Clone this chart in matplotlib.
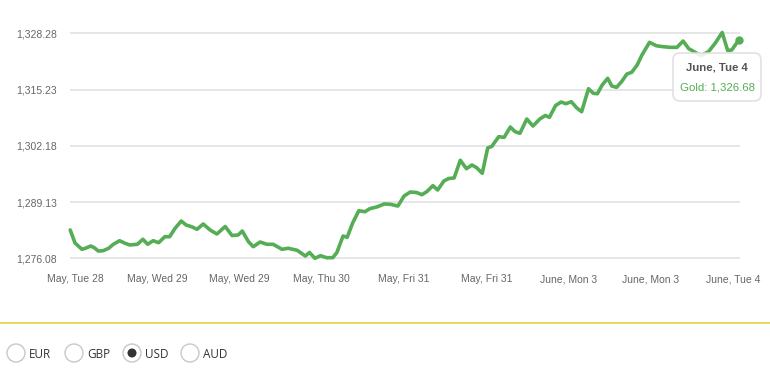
import matplotlib.pyplot as plt
from matplotlib.patches import Circle, FancyBboxPatch

# gold price, hours since first tick (12 h per tick)
hours = [-0.7, 0.0, 1.0, 1.5, 2.3, 2.8, 3.4, 4.1, 4.9, 5.6, 6.5, 7.3, 8.0, 9.1, 9.9,
         10.6, 11.4, 12.2, 13.1, 13.8, 14.6, 15.5, 16.2, 17.0, 17.8, 18.7, 19.7,
         20.7, 21.9, 22.9, 23.8, 24.4, 25.3, 26.0, 27.0, 28.0, 28.9, 30.2, 31.1,
         32.4, 33.6, 34.2, 35.0, 35.8, 36.7, 37.6, 38.2, 39.1, 39.7, 40.5, 41.4,
         42.3, 43.0, 44.0, 45.1, 46.0, 47.1, 48.0, 48.9, 49.8, 50.6, 51.3, 52.2,
         52.9, 53.8, 54.5, 55.3, 56.2, 57.1, 57.9, 58.6, 59.4, 60.2, 60.8, 61.8,
         62.6, 63.5, 64.2, 64.9, 65.9, 66.8, 67.8, 68.6, 69.2, 70.1, 70.9, 71.6,
         72.4, 73.2, 73.9, 74.9, 75.6, 76.2, 76.9, 77.7, 78.3, 79.0, 79.8, 80.5,
         81.2, 82.0, 82.7, 83.8, 84.8, 85.8, 86.8, 87.8, 88.7, 89.5, 90.5, 91.3,
         92.4, 93.4, 94.4, 95.2, 95.8, 96.8]
gold = [1282.65, 1279.63, 1278.17, 1278.40, 1278.93, 1278.54, 1277.77, 1277.84,
        1278.40, 1279.33, 1280.16, 1279.56, 1279.17, 1279.33, 1280.49, 1279.33,
        1280.16, 1279.70, 1281.09, 1281.09, 1283.04, 1284.73, 1283.81, 1283.41,
        1282.81, 1284.04, 1282.65, 1281.72, 1283.46, 1281.37, 1281.49, 1282.41,
        1279.93, 1278.77, 1279.86, 1279.33, 1279.33, 1278.17, 1278.40, 1277.94,
        1276.61, 1277.43, 1276.08, 1276.68, 1276.22, 1276.22, 1277.43, 1281.25,
        1280.95, 1284.27, 1287.12, 1286.89, 1287.59, 1287.98, 1288.68, 1288.61,
        1288.21, 1290.53, 1291.46, 1291.35, 1290.84, 1291.53, 1292.92, 1291.93,
        1294.01, 1294.59, 1294.71, 1298.82, 1296.87, 1297.73, 1297.08, 1295.80,
        1301.67, 1302.06, 1304.29, 1304.15, 1306.54, 1305.45, 1305.08, 1308.40,
        1306.77, 1308.40, 1309.21, 1308.79, 1311.53, 1312.34, 1311.95, 1312.41,
        1310.95, 1310.09, 1315.43, 1314.36, 1314.27, 1316.29, 1317.84, 1316.05,
        1315.75, 1317.21, 1318.84, 1319.23, 1320.93, 1323.25, 1326.19, 1325.40,
        1325.17, 1325.03, 1325.03, 1326.49, 1324.75, 1323.83, 1323.13, 1324.01,
        1326.03, 1328.47, 1324.29, 1324.41, 1326.68]

tick_hours = [0, 12, 24, 36, 48, 60, 72, 84, 96]
tick_labels = ["May, Tue 28", "May, Wed 29", "May, Wed 29", "May, Thu 30",
               "May, Fri 31", "May, Fri 31", "June, Mon 3", "June, Mon 3",
               "June, Tue 4"]
y_ticks = [1276.08, 1289.13, 1302.18, 1315.23, 1328.28]
currencies = ["EUR", "GBP", "USD", "AUD"]
selected = "USD"

green = "#55ad55"
plt.rcParams["font.family"] = ["Liberation Sans", "DejaVu Sans"]

fig = plt.figure(figsize=(7.7, 3.69), dpi=100)
ax = fig.add_axes([70 / 770, 1 - 262 / 369, 670 / 770, 237 / 369])

ax.plot(hours, gold, color=green, lw=2.6, solid_joinstyle="round",
        solid_capstyle="round", zorder=3, clip_on=False)
ax.plot(hours[-1], gold[-1], "o", color=green, ms=5, zorder=4, clip_on=False)

ax.set_xlim(-0.73, 97.0)
ax.set_ylim(1275.22, 1330.21)
ax.set_yticks(y_ticks)
ax.set_yticklabels([f"{v:,.2f}" for v in y_ticks])
ax.set_xticks(tick_hours)
ax.set_xticklabels(tick_labels)
ax.tick_params(axis="y", length=0, pad=9.4, labelsize=7.5, labelcolor="#666666")
ax.tick_params(axis="x", length=0, pad=9, labelsize=7.5, labelcolor="#666666")
ax.grid(axis="y", color="#e2e2e2", lw=1.2)
ax.set_axisbelow(True)
for s in ax.spines.values():
    s.set_visible(False)

# overlay in pixel units for the tooltip and the currency selector
ui = fig.add_axes([0, 0, 1, 1], zorder=5)
ui.set_xlim(0, 770)
ui.set_ylim(369, 0)
ui.axis("off")

box = FancyBboxPatch((673, 53), 88, 48, boxstyle="round,pad=0,rounding_size=7",
                     fc="white", ec="#dddddd", lw=1.2, alpha=0.88)
ui.add_patch(box)
ui.text(717, 68, "June, Tue 4", ha="center", va="center", fontsize=8.2,
        fontweight="bold", color="#555555")
ui.text(717, 87, "Gold: 1,326.68", ha="center", va="center", fontsize=8.2,
        color=green)

ui.plot([0, 770], [323, 323], color="#e6cf45", lw=1.2)

cx = [16, 74, 132, 190]
for x, cur in zip(cx, currencies):
    ui.add_patch(Circle((x, 353), 9, fc="white", ec="#c8c8c8", lw=1))
    if cur == selected:
        ui.add_patch(Circle((x, 353), 4.5, fc="#333333", ec="none"))
    ui.text(x + 13, 354, cur, ha="left", va="center", fontsize=8.5,
            color="#333333", family=["Open Sans", "DejaVu Sans"])

fig.savefig("out.png", dpi=100)
